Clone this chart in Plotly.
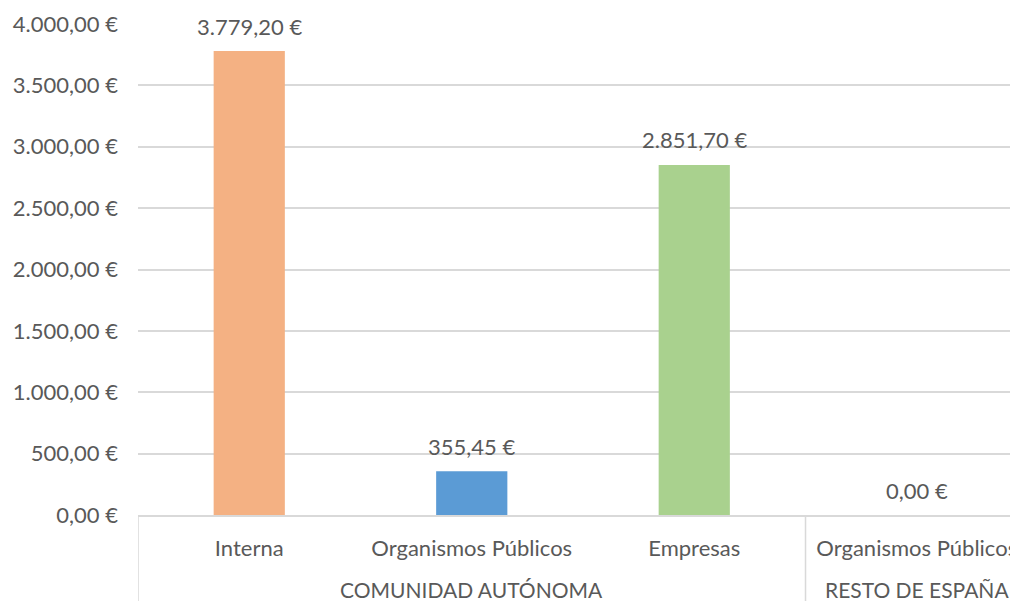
import plotly.graph_objects as go

groups = ["COMUNIDAD AUTÓNOMA", "COMUNIDAD AUTÓNOMA", "COMUNIDAD AUTÓNOMA", "RESTO DE ESPAÑA"]
categories = ["Interna", "Organismos Públicos", "Empresas", "Organismos Públicos"]
values = [3779.20, 355.45, 2851.70, 0.00]
colors = ["#F4B183", "#5B9BD5", "#A9D18E", "#5B9BD5"]
y_ticks = [0, 500, 1000, 1500, 2000, 2500, 3000, 3500, 4000]

font_family = "Lato, 'Open Sans', sans-serif"
text_color = "#595959"
grid_color = "#D9D9D9"
FS = 22


def eur(v):
    s = f"{v:,.2f}".replace(",", "X").replace(".", ",").replace("X", ".")
    return s + " €"


positions = list(range(len(categories)))

fig = go.Figure()
fig.add_trace(go.Bar(
    x=positions,
    y=values,
    marker=dict(color=colors, line=dict(width=0)),
    width=0.32,
    hoverinfo="skip",
))

# data labels
for i, v in zip(positions, values):
    fig.add_annotation(
        x=i, y=v, xref="x", yref="y",
        text=eur(v), showarrow=False, yanchor="middle", yshift=25,
        font=dict(family=font_family, size=FS, color=text_color),
    )

# group labels and dividers
bottom = -86 / 491
group_spans = []
start = 0
for i in range(1, len(groups) + 1):
    if i == len(groups) or groups[i] != groups[start]:
        group_spans.append((groups[start], start, i - 1))
        start = i
for name, a, b in group_spans:
    fig.add_annotation(
        x=(a + b) / 2, y=0, xref="x", yref="paper",
        text=name, showarrow=False, yanchor="middle", yshift=-74,
        borderpad=0,
        font=dict(family=font_family, size=FS - 1, color=text_color),
    )
    fig.add_shape(type="line", xref="x", yref="paper",
                  x0=a - 0.5, x1=a - 0.5, y0=0, y1=bottom,
                  line=dict(color=grid_color, width=1.5), layer="above")

# page body has an 8px margin, so the figure is offset by 8px
fig.update_layout(
    width=1010, height=593,
    margin=dict(l=130, r=0, t=16, b=86),
    paper_bgcolor="white", plot_bgcolor="white",
    showlegend=False,
    font=dict(family=font_family, size=FS, color=text_color),
)
fig.update_yaxes(
    range=[0, 4000], tickvals=y_ticks, ticktext=[eur(t) for t in y_ticks],
    showgrid=True, gridcolor=grid_color, gridwidth=1.5,
    zeroline=False, showline=False, ticks="",
    ticklabelstandoff=19, automargin=False,
    tickfont=dict(family=font_family, size=FS, color=text_color),
)
fig.update_xaxes(
    range=[-0.5, 3.455], tickvals=positions, ticktext=categories,
    showline=True, linecolor=grid_color, linewidth=1.5,
    showgrid=False, zeroline=False, ticks="",
    ticklabelstandoff=13, automargin=False,
    tickfont=dict(family=font_family, size=FS, color=text_color),
)

fig.write_html("out.html")
